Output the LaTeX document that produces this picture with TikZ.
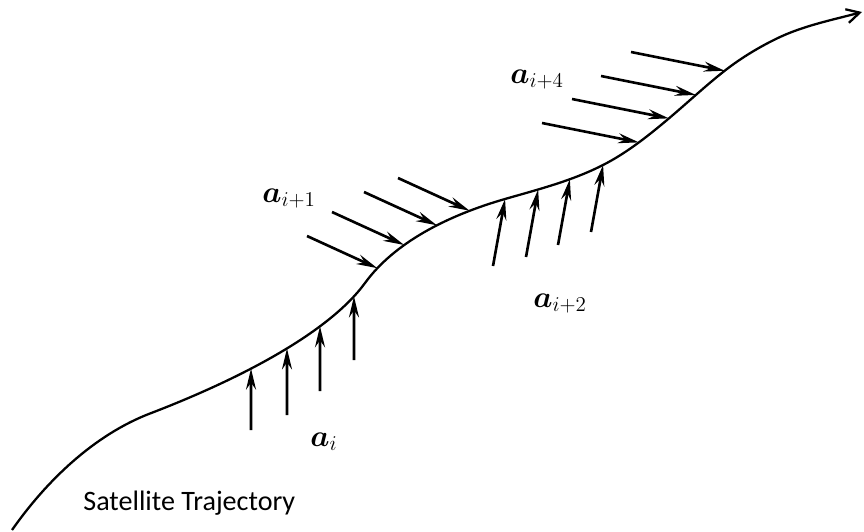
\documentclass[tikz,border=0pt]{standalone}
\usepackage{amsmath,bm}
\usepackage{fontspec}
\setmainfont{Carlito}
\usepackage{tikz}
\usetikzlibrary{arrows.meta,intersections}

\begin{document}
\begin{tikzpicture}[
  x=0.02cm,y=-0.02cm,
  traj/.style ={line width=1.3pt,-{Straight Barb[length=2.6mm,width=2.8mm]}},
  force/.style={line width=1.5pt,-{Stealth[length=4.2mm,width=2mm,inset=1.4mm]}},
  vec/.style  ={font=\fontsize{18}{20}\selectfont,inner sep=0pt,anchor=base west},
  caption/.style={font=\fontsize{16}{19}\selectfont,inner sep=0pt,anchor=base west},
]
\useasboundingbox (0,0) rectangle (864,531);

% points the trajectory passes through
\coordinate (p0) at (12,530);
\coordinate (p1) at (150,413.5);
\coordinate (p2) at (365,283);
\coordinate (p3) at (505,199);
\coordinate (p4) at (603,165);
\coordinate (p5) at (667,120);
\coordinate (p6) at (725,70.5);
\coordinate (p7) at (780,37);
\coordinate (p8) at (862,12);

\draw[traj,name path=orbit] (p0)
  .. controls (46.4,480.9)  and (94,435)     .. (p1)
  .. controls (243.4,377.7) and (329.7,331.5) .. (p2)
  .. controls (394.4,242.6) and (447.3,215.6) .. (p3)
  .. controls (538.6,189.3) and (571.8,180.9) .. (p4)
  .. controls (626.2,153.2) and (647.1,136.7) .. (p5)
  .. controls (686.2,103.9) and (705.3,85.9)  .. (p6)
  .. controls (741.5,57.6)  and (761,45.9)    .. (p7)
  .. controls (805.4,25.2)  and (835,19.3)    .. (p8);

% acceleration arrows: tail, then direction; the head sits on the trajectory
\foreach \n/\tx/\ty/\dx/\dy in {
   1/251/430/0/-100,    2/287/415/0/-100,    3/320/391/0/-100,    4/354/360/0/-100,
   5/307/236/105/48,    6/332/212/105/48,    7/364/192/105/48,    8/398/178/105/48,
   9/493/266/18/-100,  10/526/257/18/-100,  11/558/245/18/-100,  12/591/232/18/-100,
  13/542/123/140/28,   14/572/99/140/28,    15/601/76/140/28,    16/631/52/140/28}
{
  \coordinate (t\n) at (\tx,\ty);
  \path[name path=ray\n] (t\n) -- ++(\dx,\dy);
  \path[name intersections={of=orbit and ray\n,by=h\n}];
  \draw[force] (t\n) -- (h\n);
}

\node[vec] (ai)   at (310,446) {$\boldsymbol{a}_{i}$};
\node[vec] (ai1)  at (262,202) {$\boldsymbol{a}_{i+1}$};
\node[vec] (ai2)  at (533,307) {$\boldsymbol{a}_{i+2}$};
\node[vec] (ai4)  at (510,83)  {$\boldsymbol{a}_{i+4}$};

\node[caption] (traj) at (83,510) {Satellite Trajectory};
\end{tikzpicture}
\end{document}
